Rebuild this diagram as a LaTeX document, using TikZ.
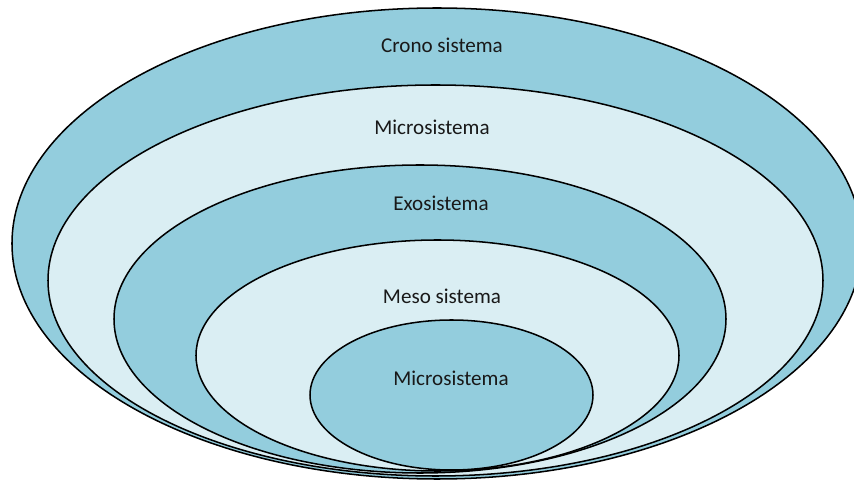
\documentclass[tikz,border=0pt]{standalone}
\usepackage{fontspec}
\setmainfont{Carlito}
\usepackage{tikz}
\usetikzlibrary{positioning}
\definecolor{ringdark}{HTML}{93CDDD}
\definecolor{ringlight}{HTML}{DAEEF3}
\tikzset{
  ringA/.style ={draw=black, fill=ringdark, line width=1.3pt},
  ringB/.style ={draw=black, fill=ringlight, line width=1.3pt},
  lvl/.style   ={font=\fontsize{18}{21}\selectfont, text=black!90,
                 inner sep=1pt},
}
\begin{document}
\begin{tikzpicture}[x=0.03cm, y=-0.03cm]
  \useasboundingbox (0,0) rectangle (854,484);
  \draw[ringA] (437,243.5) ellipse [x radius=425, y radius=235.5];
  \draw[ringB] (435.5,280.5) ellipse [x radius=387.5, y radius=195.5];
  \draw[ringA] (420,319) ellipse [x radius=306, y radius=154];
  \draw[ringB] (437.5,355.5) ellipse [x radius=241.5, y radius=115.5];
  \draw[ringA] (451.5,395) ellipse [x radius=141.5, y radius=75];
  \node[lvl] (crono) at (442,45) {Crono sistema};
  \node[lvl] (micro) at (432,127) {Microsistema};
  \node[lvl] (exo) at (441,203) {Exosistema};
  \node[lvl] (meso) at (442,296) {Meso sistema};
  \node[lvl] (core) at (451,378) {Microsistema};
\end{tikzpicture}
\end{document}
